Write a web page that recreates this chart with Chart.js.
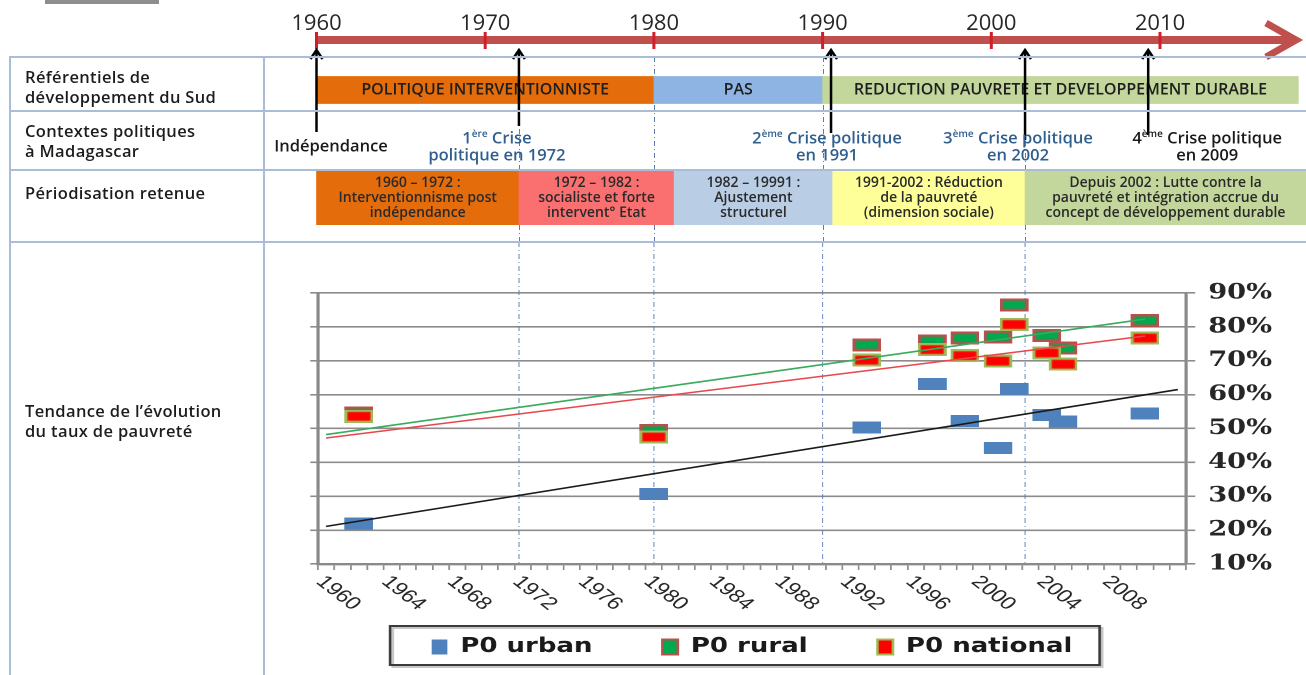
<!DOCTYPE html>
<html><head><meta charset="utf-8">
<script src="https://cdn.jsdelivr.net/npm/chart.js@4.4.1/dist/chart.umd.min.js"></script>
<style>
html,body{margin:0;padding:0;background:#fff;}
body{width:1306px;height:675px;position:relative;overflow:hidden;font-family:'Open Sans',sans-serif;}
#wrapA{position:absolute;left:0;top:0;width:1306px;height:242px;}
#wrapB{position:absolute;left:0;top:242px;width:1005px;height:433px;transform:scaleX(1.2995);transform-origin:0 0;}
.hl{position:absolute;left:10px;width:1296px;height:2px;background:#a9bdd6;}
.vl{position:absolute;top:56px;height:619px;width:2px;background:#a9bdd6;}
.lab{position:absolute;left:25px;font-weight:600;font-size:16.5px;letter-spacing:0.35px;line-height:20px;color:#1c1c1c;white-space:nowrap;}
.topbar{position:absolute;left:45px;top:0;width:114px;height:4px;background:#8e8e8e;}
</style></head><body>
<div class="topbar"></div>
<div id="wrapA"><canvas id="cA" width="1306" height="242"></canvas></div>
<div id="wrapB"><canvas id="cB" width="1005" height="433"></canvas></div>
<div class="hl" style="top:56px"></div>
<div class="hl" style="top:110px"></div>
<div class="hl" style="top:169px"></div>
<div class="hl" style="top:241px"></div>
<div class="vl" style="left:9px"></div>
<div class="vl" style="left:263px"></div>
<div class="lab" style="top:67px">Référentiels de<br>développement du Sud</div>
<div class="lab" style="top:121px">Contextes politiques<br>à Madagascar</div>
<div class="lab" style="top:183px">Périodisation retenue</div>
<div class="lab" style="top:401px">Tendance de l’évolution<br>du taux de pauvreté</div>
<script>
// ---------- DATA: timeline table ----------
const timelineTicks = [1960, 1970, 1980, 1990, 2000, 2010];
const rowNames = ['Référentiels de développement du Sud', 'Contextes politiques à Madagascar', 'Périodisation retenue'];
const refStart = [1960, 1980, 1990];
const refEnd = [1980, 1990, 2018.2];
const refLabels = [['POLITIQUE INTERVENTIONNISTE'], ['PAS'], ['REDUCTION PAUVRETE ET DEVELOPPEMENT DURABLE']];
const perStart = [1960, 1972, 1981.2, 1990.6, 2002];
const perEnd = [1972, 1981.2, 1990.6, 2002, 2019];
const perLabels = [
  ['1960 – 1972 :', 'Interventionnisme post', 'indépendance'],
  ['1972 – 1982 :', 'socialiste et forte', 'intervent° Etat'],
  ['1982 – 19991 :', 'Ajustement', 'structurel'],
  ['1991-2002 : Réduction', 'de la pauvreté', '(dimension sociale)'],
  ['Depuis 2002 : Lutte contre la', 'pauvreté et intégration accrue du', 'concept de développement durable']
];
const eventYears = [1960, 1972, 1990.5, 2002, 2009.3];
const eventLabels = [
  ['Indépendance'],
  ['1^ère^ Crise', 'politique en 1972'],
  ['2^ème^ Crise politique', 'en 1991'],
  ['3^ème^ Crise politique', 'en 2002'],
  ['4^ème^ Crise politique', 'en 2009']
];
const dividerYears = [1972, 1980, 1990, 2002];

// ---------- DATA: poverty chart ----------
const xCategories = ['1960','1961','1962','1963','1964','1965','1966','1967','1968','1969','1970','1971','1972','1973','1974','1975','1976','1977','1978','1979','1980','1981','1982','1983','1984','1985','1986','1987','1988','1989','1990','1991','1992','1993','1994','1995','1996','1997','1998','1999','2000','2001','2002','2003','2004','2005','2006','2007','2008','2009','2010','2011','2012'];
const xTickLabels = ['1960','1964','1968','1972','1976','1980','1984','1988','1992','1996','2000','2004','2008'];
const yTicks = [10, 20, 30, 40, 50, 60, 70, 80, 90];
const surveyYears = ['1962','1980','1993','1997','1999','2001','2002','2004','2005','2010'];
const urban    = [22.0, 30.6, 50.3, 63.2, 52.2, 44.2, 61.7, 54.0, 52.1, 54.5];
const rural    = [54.6, 49.4, 74.7, 75.9, 76.7, 77.0, 86.5, 77.5, 73.7, 81.9];
const national = [53.6, 47.5, 70.2, 73.3, 71.5, 69.9, 80.7, 72.3, 69.0, 76.7];
const urbanTrendYears = ['1960', '2012'];
const urbanTrend = [21.1, 61.5];
const ruralTrendYears = ['1960', '2010'];
const ruralTrend = [48.2, 82.3];
const nationalTrendYears = ['1960', '2010'];
const nationalTrend = [47.2, 77.3];

// ---------- styles / layout ----------
const refColors = ['#e46c0a', '#8eb4e3', '#c3d69b'];
const perColors = ['#e46c0a', '#fa7070', '#b9cde5', '#ffff99', '#c3d69b'];
const eventColors = ['#1a1a1a', '#2f5f8f', '#2f5f8f', '#2f5f8f', '#1a1a1a'];
const eventLabelDx = [14.5, -22, -4, -7, 59];
const arrowBottom = [132, 126, 133, 140, 135];
const KB = 1306 / 1005;

function drawRich(ctx, str, cx, cy, color) {
  const parts = str.split('^');
  const base = '600 16.5px "Open Sans"', sup = '600 10px "Open Sans"';
  let w = 0;
  parts.forEach((p, k) => { ctx.font = k % 2 ? sup : base; w += ctx.measureText(p).width; });
  let x = cx - w / 2;
  ctx.fillStyle = color; ctx.textBaseline = 'middle'; ctx.textAlign = 'left';
  parts.forEach((p, k) => { ctx.font = k % 2 ? sup : base; ctx.fillText(p, x, k % 2 ? cy - 5 : cy); x += ctx.measureText(p).width; });
}
function drawBarLabels(chart, dsIndex, labels, font, lh, color) {
  const ctx = chart.ctx, meta = chart.getDatasetMeta(dsIndex), right = chart.chartArea.right;
  ctx.save(); ctx.font = font; ctx.fillStyle = color; ctx.textAlign = 'center'; ctx.textBaseline = 'middle';
  meta.data.forEach((bar, i) => {
    const p = bar.getProps(['x', 'base', 'y'], true);
    const cx = (Math.min(p.x, right) + Math.min(p.base, right)) / 2;
    const lines = labels[i];
    lines.forEach((ln, j) => ctx.fillText(ln, cx, p.y + (j - (lines.length - 1) / 2) * lh));
  });
  ctx.restore();
}

const timelinePlugin = {
  id: 'timeline',
  beforeDatasetsDraw(chart) {
    const ctx = chart.ctx, xs = chart.scales.x;
    ctx.save(); ctx.strokeStyle = '#5a7fb5'; ctx.lineWidth = 1; ctx.setLineDash([5, 3, 1, 3]);
    dividerYears.forEach(yr => { const px = Math.round(xs.getPixelForValue(yr)) + 0.5; ctx.beginPath(); ctx.moveTo(px, 57); ctx.lineTo(px, chart.height); ctx.stroke(); });
    ctx.restore();
  },
  afterDatasetsDraw(chart) {
    const ctx = chart.ctx, xs = chart.scales.x;
    drawBarLabels(chart, 0, refLabels, '600 16px "Open Sans"', 17, '#1e1e1e');
    drawBarLabels(chart, 1, perLabels, '600 14px "Open Sans"', 15, '#2a2a2a');
    ctx.save();
    const y0 = 40, x0 = xs.getPixelForValue(timelineTicks[0]), tip = 1296;
    ctx.strokeStyle = '#c0504d'; ctx.lineWidth = 8; ctx.lineCap = 'butt';
    ctx.beginPath(); ctx.moveTo(x0, y0); ctx.lineTo(tip - 3, y0); ctx.stroke();
    ctx.lineJoin = 'miter'; ctx.lineWidth = 7;
    ctx.beginPath(); ctx.moveTo(tip - 30, y0 - 17); ctx.lineTo(tip, y0); ctx.lineTo(tip - 30, y0 + 17); ctx.stroke();
    ctx.strokeStyle = '#d11f2a'; ctx.lineWidth = 3;
    xs.ticks.forEach(t => { const px = xs.getPixelForValue(t.value); ctx.beginPath(); ctx.moveTo(px, 32); ctx.lineTo(px, 49); ctx.stroke(); });
    ctx.strokeStyle = '#000'; ctx.lineWidth = 2.5; ctx.lineJoin = 'miter';
    eventYears.forEach((yr, i) => {
      const px = xs.getPixelForValue(yr);
      ctx.beginPath(); ctx.moveTo(px, arrowBottom[i]); ctx.lineTo(px, 50); ctx.stroke();
      ctx.beginPath(); ctx.moveTo(px - 6, 59); ctx.lineTo(px, 50); ctx.lineTo(px + 6, 59); ctx.stroke();
    });
    eventLabels.forEach((lines, i) => {
      const cx = xs.getPixelForValue(eventYears[i]) + eventLabelDx[i];
      const ys = lines.length === 1 ? [147] : [139, 156];
      lines.forEach((ln, j) => drawRich(ctx, ln, cx, ys[j], eventColors[i]));
    });
    ctx.restore();
  }
};

const chartA = new Chart(document.getElementById('cA'), {
  type: 'bar',
  data: {
    labels: rowNames,
    datasets: [
      { label: rowNames[0], data: refStart.map((s, i) => ({ x: [s, refEnd[i]], y: rowNames[0] })), backgroundColor: refColors, barThickness: 27, grouped: false, borderWidth: 0 },
      { label: rowNames[2], data: perStart.map((s, i) => ({ x: [s, perEnd[i]], y: rowNames[2] })), backgroundColor: perColors, barThickness: 54, grouped: false, borderWidth: 0 }
    ]
  },
  options: {
    indexAxis: 'y', responsive: false, animation: false, devicePixelRatio: 2,
    layout: { padding: { left: 264, right: 0, top: 0, bottom: 17 } },
    plugins: { legend: { display: false }, tooltip: { enabled: false } },
    scales: {
      x: {
        type: 'linear', position: 'top', min: 1956.888, max: 2018.654, bounds: 'data',
        afterBuildTicks: s => { s.ticks = timelineTicks.map(v => ({ value: v })); },
        afterFit: s => { s.height = 63; },
        grid: { display: false, drawTicks: true, tickLength: 26 }, border: { display: false },
        ticks: { padding: 0, color: '#262626', font: { family: 'Open Sans', size: 22 },
          callback: v => String(v) }
      },
      y: { type: 'category', display: false }
    }
  },
  plugins: [timelinePlugin]
});

// ---------- poverty chart ----------
function mk(w, h, fill, stroke, lw) {
  const c = document.createElement('canvas'); c.width = w; c.height = h;
  const g = c.getContext('2d');
  g.fillStyle = stroke || fill; g.fillRect(0, 0, w, h);
  if (stroke) { g.fillStyle = fill; g.fillRect(lw, lw, w - 2 * lw, h - 2 * lw); }
  return c;
}
const mkUrban = mk(22, 12, '#4f81bd');
const mkRural = mk(22, 13, '#00a84f', '#b9504c', 2.5);
const mkNat = mk(22, 13, '#ff0000', '#9fbb58', 2.2);
const pts = vals => surveyYears.map((yr, i) => ({ x: yr, y: vals[i] }));
const tpts = (yrs, vals) => yrs.map((yr, i) => ({ x: yr, y: vals[i] }));

const chartBPlugin = {
  id: 'bextras',
  beforeDatasetsDraw(chart) {
    const ctx = chart.ctx, xa = chartA.scales.x;
    ctx.save(); ctx.strokeStyle = '#5a7fb5'; ctx.lineWidth = 0.8; ctx.setLineDash([5, 3, 1, 3]);
    dividerYears.forEach(yr => { const px = xa.getPixelForValue(yr) / KB; ctx.beginPath(); ctx.moveTo(px, 0); ctx.lineTo(px, chart.chartArea.bottom + 2); ctx.stroke(); });
    ctx.restore();
  },
  afterDraw(chart) {
    const ctx = chart.ctx, xs = chart.scales.x;
    ctx.save();
    ctx.font = '18px "Liberation Sans"'; ctx.fillStyle = '#262626'; ctx.textAlign = 'left'; ctx.textBaseline = 'middle';
    xTickLabels.forEach(lbl => {
      const px = xs.getPixelForValue(xCategories.indexOf(lbl));
      ctx.save(); ctx.translate(px - 5, xs.top + 15); ctx.rotate(Math.PI / 4); ctx.fillText(lbl, 0, 0); ctx.restore();
    });
    const hb = chart.legend.legendHitBoxes;
    if (hb && hb.length) {
      const l = hb[0].left - 32, r = hb[hb.length - 1].left + hb[hb.length - 1].width + 21;
      ctx.strokeStyle = 'rgba(0,0,0,0.22)'; ctx.lineWidth = 2;
      ctx.strokeRect(l + 2, 386, r - l, 39);
      ctx.strokeStyle = '#3a3a3a'; ctx.lineWidth = 2;
      ctx.strokeRect(l, 384, r - l, 39);
    }
    ctx.restore();
  }
};

const chartB = new Chart(document.getElementById('cB'), {
  type: 'line',
  data: {
    labels: xCategories,
    datasets: [
      { label: 'P0 urban', data: pts(urban), showLine: false, pointStyle: mkUrban, pointRadius: 5, backgroundColor: '#4f81bd', borderColor: '#4f81bd', borderWidth: 0, order: 3 },
      { label: 'P0 rural', data: pts(rural), showLine: false, pointStyle: mkRural, pointRadius: 5, backgroundColor: '#00a84f', borderColor: '#b9504c', borderWidth: 2, order: 2 },
      { label: 'P0 national', data: pts(national), showLine: false, pointStyle: mkNat, pointRadius: 5, backgroundColor: '#ff0000', borderColor: '#9fbb58', borderWidth: 2, order: 1 },
      { label: 'trend urban', data: tpts(urbanTrendYears, urbanTrend), borderColor: '#1a1a1a', borderWidth: 1.6, pointRadius: 0, order: 0 },
      { label: 'trend rural', data: tpts(ruralTrendYears, ruralTrend), borderColor: '#3aaa5c', borderWidth: 1.6, pointRadius: 0, order: 0 },
      { label: 'trend national', data: tpts(nationalTrendYears, nationalTrend), borderColor: '#e8474c', borderWidth: 1.6, pointRadius: 0, order: 0 }
    ]
  },
  options: {
    responsive: false, animation: false, devicePixelRatio: 2,
    layout: { padding: { left: 236.7, right: 0, top: 51, bottom: 8 } },
    plugins: {
      tooltip: { enabled: false },
      legend: {
        position: 'bottom', fullSize: false, maxHeight: 94,
        labels: {
          boxWidth: 12, boxHeight: 15, padding: 53.7, color: '#1a1a1a',
          font: { family: 'DejaVu Sans', weight: 'bold', size: 20 },
          filter: it => !it.text.startsWith('trend'),
          sort: (a, b) => a.datasetIndex - b.datasetIndex
        }
      }
    },
    scales: {
      x: {
        type: 'category', offset: true, afterFit: s => { s.height = 19.3; },
        ticks: { display: false },
        grid: { offset: true, drawOnChartArea: false, color: '#8c8c8c', lineWidth: 1.3, tickLength: 6 },
        border: { color: '#8a8a8a', width: 2.4 }
      },
      y: {
        position: 'right', min: 10, max: 90, bounds: 'data', afterFit: s => { s.width = 92.3; },
        ticks: { stepSize: 10, padding: 10, color: '#262626', font: { family: 'DejaVu Serif', weight: 'bold', size: 21 },
          callback: v => yTicks.includes(v) ? v + '%' : '' },
        grid: { color: '#8c8c8c', lineWidth: 1.6, tickLength: 7 },
        border: { color: '#8a8a8a', width: 2.4 }
      },
      yl: {
        position: 'left', min: 10, max: 90, bounds: 'data', afterFit: s => { s.width = 8; },
        ticks: { display: false, stepSize: 10 },
        grid: { drawOnChartArea: false, color: '#8c8c8c', lineWidth: 1.6, tickLength: 6 },
        border: { color: '#8a8a8a', width: 2.4 }
      }
    }
  },
  plugins: [chartBPlugin]
});
</script>
</body></html>
